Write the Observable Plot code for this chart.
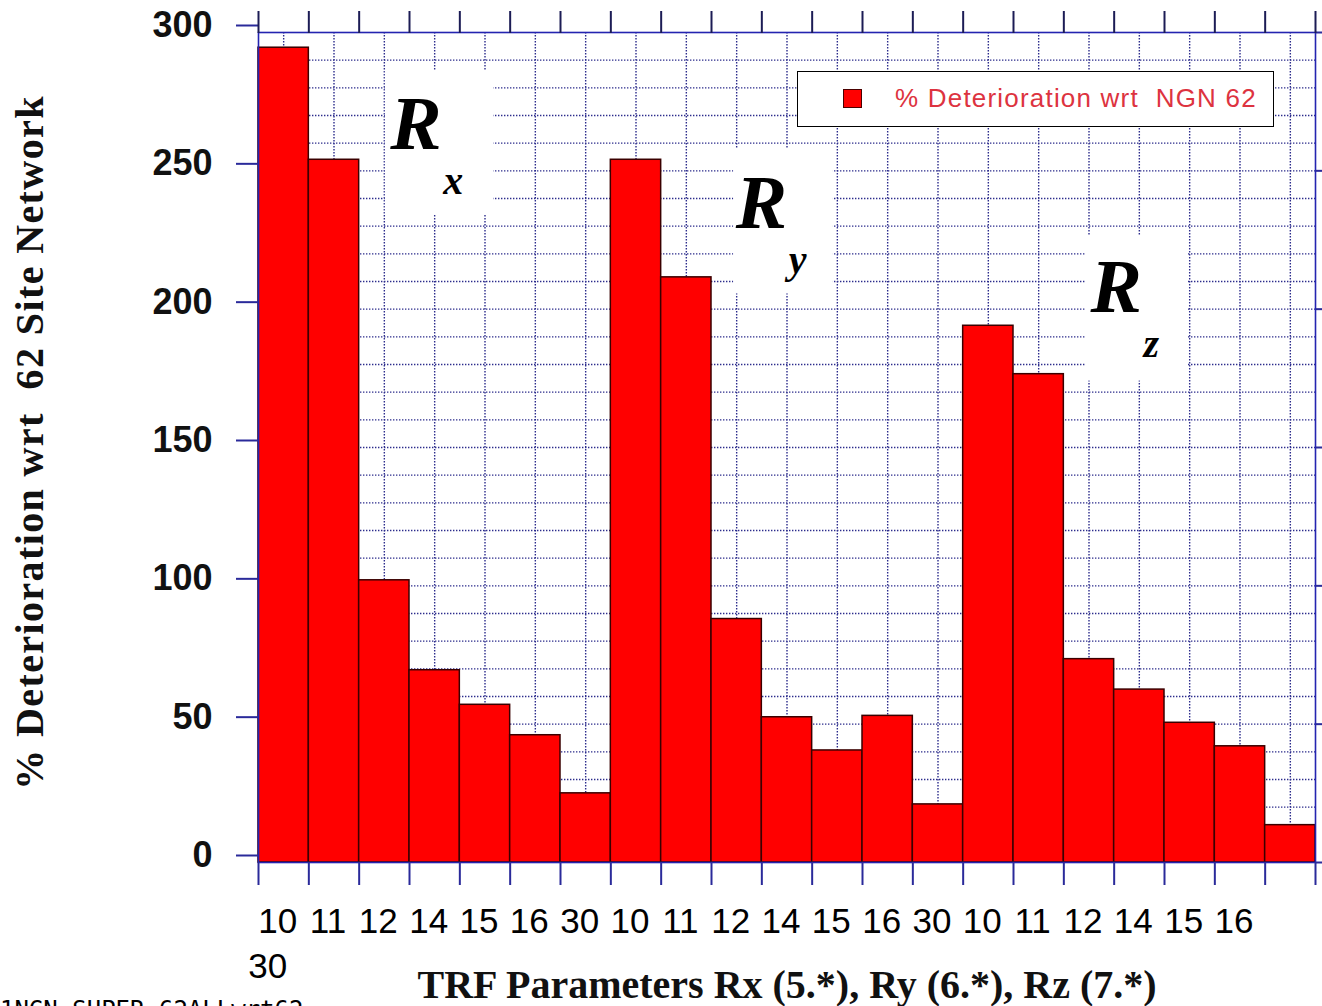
<!DOCTYPE html>
<html><head><meta charset="utf-8">
<script src="https://cdn.jsdelivr.net/npm/d3@7"></script>
<script src="https://cdn.jsdelivr.net/npm/@observablehq/plot@0.6"></script>
<style>
html,body{margin:0;padding:0;background:#fff;}
#wrap{position:relative;width:1322px;height:1006px;overflow:hidden;background:#fff;}
#legend{position:absolute;left:797px;top:71px;width:477px;height:56px;border:1.5px solid #000;background:#fff;box-sizing:border-box;}
#legend .sw{position:absolute;left:45px;top:17px;width:19px;height:19px;background:#ff0000;border:1.5px solid #4a0000;box-sizing:border-box;}
#legend .lt{position:absolute;left:97px;top:0;height:53px;font:26px "Liberation Sans",Arial,sans-serif;line-height:53px;letter-spacing:1.2px;color:#dd3340;white-space:pre;}
#note{position:absolute;left:0;top:996px;font:24px "DejaVu Sans Mono",monospace;color:#000;white-space:pre;}
svg text{white-space:pre;}
</style></head><body><div id="wrap"></div>
<script>
// ---- data ----
const groups = ["Rx", "Ry", "Rz"];
const params = ["10", "11", "12", "14", "15", "16", "30"];
const rxValues = [294.5, 254, 102, 69.5, 57, 46, 25];
const ryValues = [254, 211.5, 88, 52.5, 40.5, 53, 21];
const rzValues = [194, 176.5, 73.5, 62.5, 50.5, 42, 13.5];
const yTicks = [0, 50, 100, 150, 200, 250, 300];
const seriesName = "% Deterioration wrt  NGN 62";
const yTitle = "% Deterioration wrt  62 Site Network";
const xTitle = "TRF Parameters Rx (5.*), Ry (6.*), Rz (7.*)";
const noteText = "1NGN_SUPER_62ALLwrt62";
// annotation anchors (data space: bar index, value)
const annSub = ["x", "y", "z"];
const annX = [2.62, 9.48, 16.53];
const annY = [258, 229.5, 199];
const boxX1 = [2.52, 9.44, 16.43];
const boxX2 = [4.67, 11.42, 18.46];
const boxTop = [286, 258, 226.5];
const boxBottom = [234, 205.5, 174];

// ---- build tables ----
const valuesByGroup = [rxValues, ryValues, rzValues];
const data = [];
groups.forEach((g, gi) => params.forEach((p, pi) => {
  data.push({group: g, param: p, i: gi * params.length + pi, v: valuesByGroup[gi][pi]});
}));
const xLabels = data.map(d => d.param);
const n = data.length;
const ann = annSub.map((s, k) => ({s, x: annX[k], y: annY[k]}));
const boxes = annSub.map((s, k) => ({x1: boxX1[k], x2: boxX2[k], y1: boxBottom[k], y2: boxTop[k]}));

const navy = "#2a2a9a";
const gridColor = "#2c2c8c";
const sans = "Liberation Sans, Arial, sans-serif";
const serif = "Liberation Serif, Times New Roman, serif";

const chart = Plot.plot({
  width: 1322, height: 1006,
  marginLeft: 258, marginRight: 7, marginTop: 32, marginBottom: 144,
  x: {domain: [0, n], label: null},
  y: {domain: [0, 300], label: null},
  style: {background: "transparent", overflow: "visible"},
  marks: [
    Plot.gridY(d3.range(10, 300, 10), {stroke: gridColor, strokeOpacity: 1, strokeWidth: 1.4, strokeDasharray: "1.4,1.6"}),
    Plot.gridX(d3.range(n).map(i => i + 0.5), {stroke: gridColor, strokeOpacity: 1, strokeWidth: 1.4, strokeDasharray: "1.4,1.6"}),
    Plot.rect(boxes, {x1: "x1", x2: "x2", y1: "y1", y2: "y2", fill: "white"}),
    Plot.rectY(data, {x1: "i", x2: d => d.i + 1, y: "v", fill: "#ff0000", stroke: "#3a0000", strokeWidth: 1.5}),
    Plot.frame({stroke: "#2424b0", strokeWidth: 1.6}),
    Plot.axisY(yTicks, {anchor: "left", tickSize: 22, tickPadding: 24, dy: -7, stroke: navy, strokeWidth: 2, fill: "#111",
      fontSize: 36, fontWeight: "bold", fontFamily: sans, label: null}),
    Plot.axisY(yTicks, {anchor: "right", tickSize: 22, tickFormat: () => "", stroke: navy, strokeWidth: 2, label: null}),
    Plot.axisX(d3.range(0, n + 1), {anchor: "top", tickSize: 22, tickFormat: () => "", stroke: "#1c1c55", strokeWidth: 2, label: null}),
    Plot.axisX(d3.range(0, n + 1), {anchor: "bottom", tickSize: 23, tickFormat: () => "", stroke: navy, strokeWidth: 2, label: null}),
    Plot.axisX(d3.range(n - 1).map(i => i + 0.5), {anchor: "bottom", tickSize: 0, tickPadding: 46, dx: -6,
      tickFormat: d => xLabels[Math.floor(d)], fill: "#000", fontSize: 35, fontFamily: sans, label: null}),
    Plot.axisX([0.5], {anchor: "bottom", tickSize: 0, tickPadding: 91, dx: -16,
      tickFormat: () => xLabels[n - 1], fill: "#000", fontSize: 35, fontFamily: sans, label: null}),
    Plot.text(ann, {x: "x", y: "y", text: () => "R", textAnchor: "start", lineAnchor: "bottom",
      fontSize: 77, fontFamily: serif, fontStyle: "italic", fontWeight: "bold", fill: "#000"}),
    Plot.text(ann, {x: "x", y: "y", text: "s", dx: 53, dy: 45, textAnchor: "start", lineAnchor: "bottom",
      fontSize: 40, fontFamily: serif, fontStyle: "italic", fontWeight: "bold", fill: "#000"}),
    Plot.text([yTitle], {text: d => d, frameAnchor: "left", rotate: -90, dx: -228, dy: -5,
      textAnchor: "middle", lineAnchor: "middle", fontSize: 40, fontWeight: "bold", fontFamily: serif, fill: "#111"}),
    Plot.text([xTitle], {text: d => d, frameAnchor: "bottom", dy: 123,
      textAnchor: "middle", lineAnchor: "middle", fontSize: 40, fontWeight: "bold", fontFamily: serif, fill: "#111"})
  ]
});

// letter spacing on the rotated y title, as in the original
chart.querySelectorAll("text").forEach(t => {
  if (t.textContent === yTitle) t.style.letterSpacing = "1.4px";
});

const wrap = document.getElementById("wrap");
wrap.appendChild(chart);
const legend = document.createElement("div");
legend.id = "legend";
legend.innerHTML = '<div class="sw"></div><div class="lt"></div>';
legend.querySelector(".lt").textContent = seriesName;
wrap.appendChild(legend);
const note = document.createElement("div");
note.id = "note";
note.textContent = noteText;
wrap.appendChild(note);
</script>
</body></html>
